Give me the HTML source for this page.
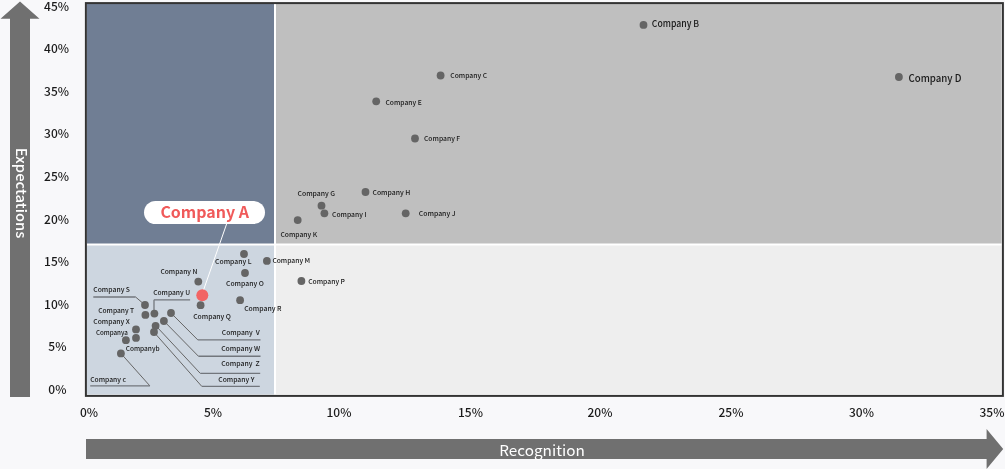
<!DOCTYPE html>
<html><head><meta charset="utf-8"><style>
html,body{margin:0;padding:0;background:#f8f8fa;width:1005px;height:469px;overflow:hidden}
svg{display:block;will-change:transform}
text{font-family:"Noto Sans CJK JP", "Liberation Sans", sans-serif}
</style></head><body>
<svg width="1005" height="469" viewBox="0 0 1005 469">

<rect x="0" y="0" width="1005" height="469" fill="#f8f8fa"/>
<polygon points="0.5,18.7 20,1.5 39.5,18.7 30,18.7 30,397 10,397 10,18.7" fill="#707070"/>
<polygon points="86,439 986.6,439 986.6,429 1003.2,449 986.6,469 986.6,459 86,459" fill="#707070"/>
<text x="499.2" y="456" font-size="14.8" fill="#fff" textLength="85.6" lengthAdjust="spacingAndGlyphs">Recognition</text>
<text transform="translate(15.9,147.8) rotate(90)" font-size="14.2" font-weight="500" fill="#fff" textLength="90.5" lengthAdjust="spacingAndGlyphs">Expectations</text>
<rect x="87" y="4" width="915" height="391" fill="#fff"/>
<rect x="87" y="4" width="187" height="239.5" fill="#707e94"/>
<rect x="276" y="4" width="725.5" height="239.5" fill="#bfbfbf"/>
<rect x="87" y="245.5" width="187" height="149" fill="#cdd6e0"/>
<rect x="276" y="245.5" width="725.5" height="148.7" fill="#eeeeee"/>
<rect x="85.9" y="3.1" width="917" height="392.8" fill="none" stroke="#333" stroke-width="2"/>
<text x="56.6" y="10.5" font-size="12.0" font-weight="500" fill="#1a1a1a" text-anchor="middle">45%</text>
<text x="56.6" y="53.1" font-size="12.0" font-weight="500" fill="#1a1a1a" text-anchor="middle">40%</text>
<text x="56.6" y="95.7" font-size="12.0" font-weight="500" fill="#1a1a1a" text-anchor="middle">35%</text>
<text x="56.6" y="138.3" font-size="12.0" font-weight="500" fill="#1a1a1a" text-anchor="middle">30%</text>
<text x="56.6" y="180.9" font-size="12.0" font-weight="500" fill="#1a1a1a" text-anchor="middle">25%</text>
<text x="56.6" y="223.5" font-size="12.0" font-weight="500" fill="#1a1a1a" text-anchor="middle">20%</text>
<text x="56.6" y="266.1" font-size="12.0" font-weight="500" fill="#1a1a1a" text-anchor="middle">15%</text>
<text x="56.6" y="308.7" font-size="12.0" font-weight="500" fill="#1a1a1a" text-anchor="middle">10%</text>
<text x="57.4" y="351.3" font-size="12.0" font-weight="500" fill="#1a1a1a" text-anchor="middle">5%</text>
<text x="57.4" y="393.9" font-size="12.0" font-weight="500" fill="#1a1a1a" text-anchor="middle">0%</text>
<text x="89.0" y="417" font-size="12.0" font-weight="500" fill="#1a1a1a" text-anchor="middle">0%</text>
<text x="213.0" y="417" font-size="12.0" font-weight="500" fill="#1a1a1a" text-anchor="middle">5%</text>
<text x="339.0" y="417" font-size="12.0" font-weight="500" fill="#1a1a1a" text-anchor="middle">10%</text>
<text x="470.5" y="417" font-size="12.0" font-weight="500" fill="#1a1a1a" text-anchor="middle">15%</text>
<text x="600.0" y="417" font-size="12.0" font-weight="500" fill="#1a1a1a" text-anchor="middle">20%</text>
<text x="731.0" y="417" font-size="12.0" font-weight="500" fill="#1a1a1a" text-anchor="middle">25%</text>
<text x="861.5" y="417" font-size="12.0" font-weight="500" fill="#1a1a1a" text-anchor="middle">30%</text>
<text x="992.0" y="417" font-size="12.0" font-weight="500" fill="#1a1a1a" text-anchor="middle">35%</text>
<line x1="93.3" y1="297.0" x2="135.6" y2="297.0" stroke="#72767c" stroke-width="1.35"/>
<line x1="135.6" y1="297.0" x2="145.0" y2="305.0" stroke="#666" stroke-width="1"/>
<line x1="190.1" y1="299.8" x2="154.0" y2="299.8" stroke="#72767c" stroke-width="1.35"/>
<line x1="154.0" y1="299.8" x2="154.0" y2="313.6" stroke="#7a7e84" stroke-width="1.4"/>
<line x1="171.0" y1="313.0" x2="197.8" y2="339.9" stroke="#666" stroke-width="1"/>
<line x1="197.8" y1="339.9" x2="260.5" y2="339.9" stroke="#72767c" stroke-width="1.35"/>
<line x1="163.9" y1="321.0" x2="198.4" y2="356.2" stroke="#666" stroke-width="1"/>
<line x1="198.4" y1="356.2" x2="260.5" y2="356.2" stroke="#72767c" stroke-width="1.35"/>
<line x1="155.6" y1="325.5" x2="200.3" y2="373.4" stroke="#666" stroke-width="1"/>
<line x1="200.3" y1="373.4" x2="260.2" y2="373.4" stroke="#72767c" stroke-width="1.35"/>
<line x1="153.8" y1="332.0" x2="201.8" y2="386.4" stroke="#666" stroke-width="1"/>
<line x1="201.8" y1="386.4" x2="259.8" y2="386.4" stroke="#72767c" stroke-width="1.35"/>
<line x1="120.9" y1="353.4" x2="149.9" y2="385.9" stroke="#666" stroke-width="1"/>
<line x1="149.9" y1="385.9" x2="90.2" y2="385.9" stroke="#72767c" stroke-width="1.35"/>
<line x1="226.6" y1="224" x2="203.2" y2="291" stroke="#fff" stroke-width="1"/>
<circle cx="643.5" cy="24.9" r="3.9" fill="#656565"/>
<circle cx="898.9" cy="77.0" r="3.9" fill="#656565"/>
<circle cx="440.6" cy="75.5" r="3.9" fill="#656565"/>
<circle cx="376.2" cy="101.3" r="3.9" fill="#656565"/>
<circle cx="415.0" cy="138.5" r="3.9" fill="#656565"/>
<circle cx="321.5" cy="205.7" r="3.9" fill="#656565"/>
<circle cx="365.5" cy="192.0" r="3.9" fill="#656565"/>
<circle cx="324.4" cy="213.3" r="3.9" fill="#656565"/>
<circle cx="405.7" cy="213.3" r="3.9" fill="#656565"/>
<circle cx="297.7" cy="220.1" r="3.9" fill="#656565"/>
<circle cx="244.0" cy="254.0" r="3.9" fill="#656565"/>
<circle cx="266.9" cy="260.9" r="3.9" fill="#656565"/>
<circle cx="198.3" cy="281.6" r="3.9" fill="#656565"/>
<circle cx="245.0" cy="273.0" r="3.9" fill="#656565"/>
<circle cx="301.4" cy="281.0" r="3.9" fill="#656565"/>
<circle cx="200.6" cy="305.2" r="3.9" fill="#656565"/>
<circle cx="240.1" cy="300.2" r="3.9" fill="#656565"/>
<circle cx="145.0" cy="305.0" r="3.9" fill="#656565"/>
<circle cx="154.4" cy="313.6" r="3.9" fill="#656565"/>
<circle cx="145.4" cy="314.9" r="3.9" fill="#656565"/>
<circle cx="171.0" cy="313.0" r="3.9" fill="#656565"/>
<circle cx="163.9" cy="321.0" r="3.9" fill="#656565"/>
<circle cx="155.6" cy="325.8" r="3.9" fill="#656565"/>
<circle cx="154.0" cy="332.0" r="3.9" fill="#656565"/>
<circle cx="136.0" cy="329.4" r="3.9" fill="#656565"/>
<circle cx="136.0" cy="337.9" r="3.9" fill="#656565"/>
<circle cx="125.9" cy="340.2" r="3.9" fill="#656565"/>
<circle cx="120.9" cy="353.4" r="3.9" fill="#656565"/>
<circle cx="202.3" cy="295.2" r="6" fill="#f26464"/>
<text x="651.8" y="26.8" font-size="9.3" font-weight="500" fill="#1a1a1a" textLength="47.3" lengthAdjust="spacingAndGlyphs">Company B</text>
<text x="908.5" y="81.9" font-size="10.6" font-weight="500" fill="#1a1a1a" textLength="53.0" lengthAdjust="spacingAndGlyphs">Company D</text>
<text x="450.3" y="78.1" font-size="6.6" font-weight="500" fill="#1a1a1a" textLength="36.7" lengthAdjust="spacingAndGlyphs">Company C</text>
<text x="385.5" y="105.3" font-size="6.6" font-weight="500" fill="#1a1a1a" textLength="36.2" lengthAdjust="spacingAndGlyphs">Company E</text>
<text x="424.0" y="140.9" font-size="6.6" font-weight="500" fill="#1a1a1a" textLength="36.2" lengthAdjust="spacingAndGlyphs">Company F</text>
<text x="297.5" y="196.3" font-size="6.6" font-weight="500" fill="#1a1a1a" textLength="37.6" lengthAdjust="spacingAndGlyphs">Company G</text>
<text x="372.5" y="195.3" font-size="6.6" font-weight="500" fill="#1a1a1a" textLength="37.8" lengthAdjust="spacingAndGlyphs">Company H</text>
<text x="332.1" y="217.2" font-size="6.6" font-weight="500" fill="#1a1a1a" textLength="34.4" lengthAdjust="spacingAndGlyphs">Company I</text>
<text x="418.7" y="216.2" font-size="6.6" font-weight="500" fill="#1a1a1a" textLength="36.8" lengthAdjust="spacingAndGlyphs">Company J</text>
<text x="280.4" y="237.3" font-size="6.6" font-weight="500" fill="#1a1a1a" textLength="36.8" lengthAdjust="spacingAndGlyphs">Company K</text>
<text x="215.1" y="263.9" font-size="6.6" font-weight="500" fill="#1a1a1a" textLength="36.4" lengthAdjust="spacingAndGlyphs">Company L</text>
<text x="272.4" y="263.3" font-size="6.6" font-weight="500" fill="#1a1a1a" textLength="37.8" lengthAdjust="spacingAndGlyphs">Company M</text>
<text x="160.4" y="273.9" font-size="6.6" font-weight="500" fill="#1a1a1a" textLength="37.0" lengthAdjust="spacingAndGlyphs">Company N</text>
<text x="226.0" y="286.2" font-size="6.6" font-weight="500" fill="#1a1a1a" textLength="37.8" lengthAdjust="spacingAndGlyphs">Company O</text>
<text x="308.2" y="284.2" font-size="6.6" font-weight="500" fill="#1a1a1a" textLength="36.8" lengthAdjust="spacingAndGlyphs">Company P</text>
<text x="193.2" y="319.0" font-size="6.6" font-weight="500" fill="#1a1a1a" textLength="37.8" lengthAdjust="spacingAndGlyphs">Company Q</text>
<text x="244.2" y="311.1" font-size="6.6" font-weight="500" fill="#1a1a1a" textLength="37.2" lengthAdjust="spacingAndGlyphs">Company R</text>
<text x="93.3" y="292.2" font-size="6.6" font-weight="500" fill="#1a1a1a" textLength="36.7" lengthAdjust="spacingAndGlyphs">Company S</text>
<text x="153.2" y="295.1" font-size="6.6" font-weight="500" fill="#1a1a1a" textLength="36.9" lengthAdjust="spacingAndGlyphs">Company U</text>
<text x="98.2" y="313.0" font-size="6.6" font-weight="500" fill="#1a1a1a" textLength="36.0" lengthAdjust="spacingAndGlyphs">Company T</text>
<text x="93.3" y="324.1" font-size="6.6" font-weight="500" fill="#1a1a1a" textLength="36.5" lengthAdjust="spacingAndGlyphs">Company X</text>
<text x="95.9" y="334.7" font-size="6.6" font-weight="500" fill="#1a1a1a" textLength="32.0" lengthAdjust="spacingAndGlyphs">Companya</text>
<text x="125.7" y="351.1" font-size="6.6" font-weight="500" fill="#1a1a1a" textLength="33.9" lengthAdjust="spacingAndGlyphs">Companyb</text>
<text x="90.2" y="382.2" font-size="6.6" font-weight="500" fill="#1a1a1a" textLength="35.8" lengthAdjust="spacingAndGlyphs">Company c</text>
<text x="221.8" y="335.1" font-size="6.6" font-weight="500" fill="#1a1a1a" textLength="38.0" lengthAdjust="spacingAndGlyphs">Company  V</text>
<text x="221.2" y="351.1" font-size="6.6" font-weight="500" fill="#1a1a1a" textLength="39.0" lengthAdjust="spacingAndGlyphs">Company W</text>
<text x="221.2" y="366.2" font-size="6.6" font-weight="500" fill="#1a1a1a" textLength="38.6" lengthAdjust="spacingAndGlyphs">Company  Z</text>
<text x="218.3" y="381.6" font-size="6.6" font-weight="500" fill="#1a1a1a" textLength="36.1" lengthAdjust="spacingAndGlyphs">Company Y</text>
<rect x="144" y="201" width="121" height="23" rx="11.5" fill="#fff"/>
<text x="160.4" y="218" font-size="15.4" font-weight="bold" fill="#f05a5a" textLength="88.6" lengthAdjust="spacingAndGlyphs">Company A</text>
</svg>
</body></html>
